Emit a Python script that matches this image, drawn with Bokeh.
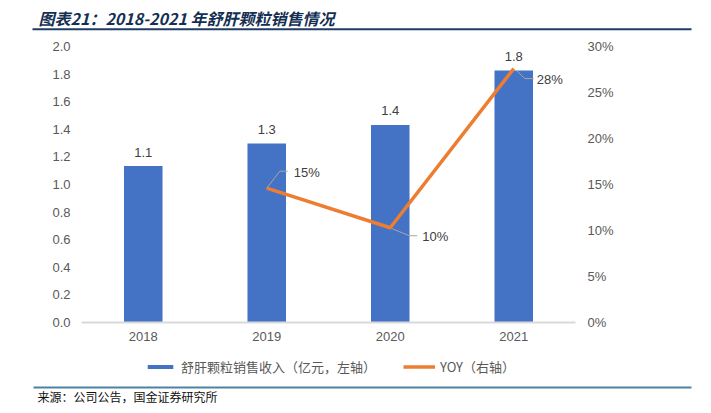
import numpy as np
from bokeh.plotting import figure
from bokeh.models import (Range1d, LinearAxis, FixedTicker, NumeralTickFormatter,
                          Legend, LegendItem, ColumnDataSource)
from bokeh.core.properties import value
from bokeh.embed import file_html
from bokeh.resources import INLINE

# ---- data ----
years = ["2018", "2019", "2020", "2021"]
revenue = [1.134, 1.298, 1.432, 1.826]          # 亿元
yoy_years = ["2019", "2020", "2021"]
yoy = [0.146, 0.103, 0.276]                     # fraction
left_ticks = [0.0, 0.2, 0.4, 0.6, 0.8, 1.0, 1.2, 1.4, 1.6, 1.8, 2.0]
right_ticks = [0.0, 0.05, 0.10, 0.15, 0.20, 0.25, 0.30]

title_text = "图表21：2018-2021 年舒肝颗粒销售情况"
source_text = "来源：公司公告，国金证券研究所"
bar_name = "舒肝颗粒销售收入（亿元，左轴）"
line_name = "YOY（右轴）"

# ---- style / layout ----
W = 711
TOP_H, MAIN_H, BOT_H = 34, 316, 63
BL, BR, BT, BB = 81, 136, 12, 28
FW = W - BL - BR
FH = MAIN_H - BT - BB
BLUE = "#4472C4"
ORANGE = "#ED7D31"
GRAY_TXT = "#595959"
NUM_FONT = "Liberation Sans"
CJK_FONT = "Noto Sans CJK SC"


def deco_fig(h):
    f = figure(width=W, height=h, output_backend="svg", toolbar_location=None,
               x_range=Range1d(0, W), y_range=Range1d(h, 0),
               x_axis_location=None, y_axis_location=None, title=None,
               min_border=0, min_border_left=0, min_border_right=0,
               min_border_top=0, min_border_bottom=0)
    f.outline_line_color = None
    f.grid.grid_line_color = None
    f.background_fill_color = "white"
    f.border_fill_color = "white"
    return f


# ---- title strip ----
top = deco_fig(TOP_H)
top.text(x=[38], y=[17], text=[title_text], text_font=value(CJK_FONT),
         text_font_size="16px", text_font_style="bold italic", text_color="#142F52",
         text_baseline="middle", text_align="left")
top.segment(x0=[32], y0=[28.7], x1=[691], y1=[28.7], line_color="#1F3D64", line_width=2)

# ---- main chart ----
xi = list(range(len(years)))
yoy_x = [years.index(y) for y in yoy_years]

p = figure(width=W, height=MAIN_H, output_backend="svg", toolbar_location=None,
           x_range=Range1d(-0.5, len(years) - 0.5), y_range=Range1d(0, 2.0),
           min_border_left=BL, min_border_right=BR, min_border_top=BT,
           min_border_bottom=BB, title=None)
p.outline_line_color = None
p.grid.grid_line_color = None
p.background_fill_color = "white"
p.border_fill_color = "white"
p.extra_y_ranges = {"yoy": Range1d(0, 0.30)}

p.xaxis.ticker = FixedTicker(ticks=xi)
p.xaxis.major_label_overrides = {i: y for i, y in zip(xi, years)}
p.xaxis.axis_line_color = "#D9D9D9"
p.xaxis.axis_line_width = 2
p.xaxis.major_tick_line_color = None
p.xaxis.minor_tick_line_color = None
p.xaxis.major_tick_out = 0
p.xaxis.major_label_standoff = 9
p.xaxis.major_label_text_font = NUM_FONT
p.xaxis.major_label_text_font_size = "13px"
p.xaxis.major_label_text_color = GRAY_TXT

p.yaxis.ticker = FixedTicker(ticks=left_ticks)
p.yaxis.formatter = NumeralTickFormatter(format="0.0")
p.yaxis.axis_line_color = None
p.yaxis.major_tick_line_color = None
p.yaxis.minor_tick_line_color = None
p.yaxis.major_tick_out = 0
p.yaxis.major_label_standoff = 11
p.yaxis.major_label_text_font = NUM_FONT
p.yaxis.major_label_text_font_size = "13px"
p.yaxis.major_label_text_color = GRAY_TXT

ra = LinearAxis(y_range_name="yoy", ticker=FixedTicker(ticks=right_ticks),
                formatter=NumeralTickFormatter(format="0%"))
ra.axis_line_color = None
ra.major_tick_line_color = None
ra.minor_tick_line_color = None
ra.major_tick_out = 0
ra.major_label_standoff = 12
ra.major_label_text_font = NUM_FONT
ra.major_label_text_font_size = "13px"
ra.major_label_text_color = GRAY_TXT
p.add_layout(ra, "right")

bsrc = ColumnDataSource(dict(x=xi, top=revenue, lab=[f"{v:.1f}" for v in revenue]))
p.vbar(x="x", top="top", width=0.312, source=bsrc, fill_color=BLUE, line_color=None)
p.text(x="x", y="top", text="lab", source=bsrc, text_align="center", text_baseline="middle",
       y_offset=-14, text_font=value(NUM_FONT), text_font_size="13px", text_color="#404040")

lsrc = ColumnDataSource(dict(x=yoy_x, y=yoy, lab=[f"{v*100:.0f}%" for v in yoy]))
p.line(x="x", y="y", source=lsrc, line_color=ORANGE, line_width=3.5,
       y_range_name="yoy", line_join="round")

px_x = FW / len(years)
px_y = FH / 0.30
leader = [((0, 0), (13, -17), (21, -17)),
          ((2, 1), (19, 8), (27, 8)),
          ((3, 2), (11, 10), (20, 10))]
text_off = [(27, -16), (32, 9), (23, 11)]
xs, ys = [], []
for (xv, yv), path in zip(zip(yoy_x, yoy), leader):
    xs.append([xv + dx / px_x for dx, dy in path])
    ys.append([yv - dy / px_y for dx, dy in path])
p.multi_line(xs=xs, ys=ys, line_color="#A6A6A6", line_width=1, y_range_name="yoy")
lsrc.data["xo"] = [o[0] for o in text_off]
lsrc.data["yo"] = [o[1] for o in text_off]
p.text(x="x", y="y", text="lab", source=lsrc, x_offset="xo", y_offset="yo",
       text_align="left", text_baseline="middle", y_range_name="yoy",
       text_font=value(NUM_FONT), text_font_size="13px", text_color="#404040")

# ---- legend + source strip ----
bot = deco_fig(BOT_H)
# legend proxies: one point each, placed off the visible strip
lg_bar = bot.vbar(x=[-1000], top=[-500], bottom=[-501], width=1, fill_color=BLUE, line_color=None)
lg_line = bot.line(x=[-1000, -999], y=[-500, -500], line_color=ORANGE, line_width=3.5)
legend = Legend(items=[LegendItem(label=bar_name, renderers=[lg_bar]),
                       LegendItem(label=line_name, renderers=[lg_line])],
                orientation="horizontal", location=(144, BOT_H - 26),
                glyph_width=32, glyph_height=5, label_standoff=5, spacing=27,
                padding=0, margin=0, border_line_color=None,
                background_fill_alpha=0,
                label_text_font=CJK_FONT, label_text_font_size="13px",
                label_text_color=GRAY_TXT)
bot.add_layout(legend)
bot.segment(x0=[33], y0=[37], x1=[691], y1=[37], line_color="#4F81A0", line_width=2)
bot.text(x=[37], y=[46], text=[source_text], text_font=value(CJK_FONT),
         text_font_size="12px", text_color="#111111",
         text_baseline="middle", text_align="left")

open("out.html", "w").write(file_html([top, p, bot], INLINE))
